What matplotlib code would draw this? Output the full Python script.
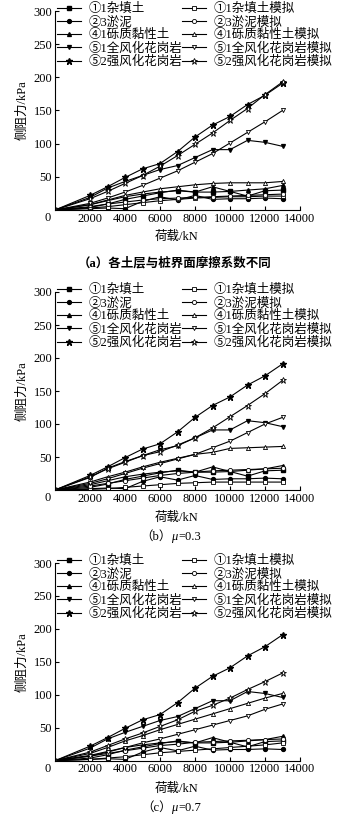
import matplotlib
matplotlib.use("Agg")
import matplotlib.pyplot as plt

plt.rcParams['font.family'] = ['Liberation Serif', 'Noto Sans CJK SC', 'DejaVu Sans']

loads = [0, 2000, 3000, 4000, 5000, 6000, 7000, 8000, 9000, 10000, 11000, 12000, 13000]

# measured (shared by all panels)
m_11 = [0, 4, 9, 16, 21, 26, 30, 27, 27, 28, 21, 29, 30]
m_23 = [0, 2, 3, 2, 13, 20, 15, 22, 16, 17, 17, 18, 17]
m_41 = [0, 8, 14, 20, 24, 27, 29, 27, 35, 28, 30, 32, 37]
m_51 = [0, 19, 33, 43, 52, 61, 67, 79, 91, 91, 105, 102, 96]
m_52 = [0, 22, 35, 49, 62, 70, 88, 110, 128, 141, 159, 173, 191]

# simulated (a)
a_11 = [0, 3, 5, 8, 11, 14, 16, 18, 19, 20, 20, 21, 21]
a_23 = [0, 5, 9, 12, 15, 17, 18, 19, 20, 21, 22, 23, 24]
a_41 = [0, 8, 15, 22, 27, 32, 35, 38, 40, 41, 41, 41, 43]
a_51 = [0, 10, 18, 27, 37, 48, 59, 72, 85, 101, 117, 133, 150]
a_52 = [0, 17, 28, 40, 52, 66, 82, 99, 116, 135, 153, 174, 193]

# simulated (b) mu=0.3
b_11 = [0, 1, 2, 4, 6, 8, 10, 11, 12, 12, 12, 12, 12]
b_23 = [0, 6, 10, 14, 18, 22, 25, 27, 29, 30, 31, 32, 33]
b_41 = [0, 12, 20, 27, 35, 42, 48, 54, 57, 63, 64, 65, 66]
b_51 = [0, 10, 17, 25, 33, 40, 47, 54, 64, 74, 87, 100, 110]
b_52 = [0, 20, 32, 42, 52, 58, 68, 79, 94, 111, 128, 146, 166]

# simulated (c) mu=0.7
c_11 = [0, 2, 4, 6, 9, 12, 14, 16, 18, 20, 22, 24, 27]
c_23 = [0, 7, 11, 15, 19, 23, 25, 28, 29, 30, 31, 32, 33]
c_41 = [0, 11, 20, 30, 38, 47, 55, 63, 71, 79, 87, 95, 102]
c_51 = [0, 7, 13, 20, 27, 33, 40, 47, 54, 61, 68, 78, 86]
c_52 = [0, 13, 23, 33, 42, 52, 62, 75, 84, 95, 108, 120, 133]

names_m = ['①1杂填土', '②3淤泥', '④1砾质黏性土', '⑤1全风化花岗岩', '⑤2强风化花岗岩']
names_s = ['①1杂填土模拟', '②3淤泥模拟', '④1砾质黏性土模拟', '⑤1全风化花岗岩模拟', '⑤2强风化花岗岩模拟']
markers = ['s', 'o', '^', 'v', '*']
xticks = [2000, 4000, 6000, 8000, 10000, 12000, 14000]
yticks = [50, 100, 150, 200, 250, 300]

cap_tags = ['（a）', '（b）', '（c）']
cap_rest = ['各土层与桩界面摩擦系数不同', '=0.3', '=0.7']
sims = [[a_11, a_23, a_41, a_51, a_52],
        [b_11, b_23, b_41, b_51, b_52],
        [c_11, c_23, c_41, c_51, c_52]]
meas = [m_11, m_23, m_41, m_51, m_52]

W, H = 358, 821
fig = plt.figure(figsize=(W / 100, H / 100), dpi=100)

panels = [(11, 210), (292, 490), (563, 760.7)]
xlab_y = [237, 518, 789]
cap_y = [263, 537, 808]
left, right = 55, 300
fs = 9

for i, (top, bot) in enumerate(panels):
    ax = fig.add_axes([left / W, (H - bot) / H, (right - left) / W, (bot - top) / H])
    ax.set_xlim(0, 14000)
    ax.set_ylim(0, 300)
    for sp in ['top', 'right']:
        ax.spines[sp].set_visible(False)
    for sp in ['left', 'bottom']:
        ax.spines[sp].set_linewidth(0.8)
    ax.set_xticks(xticks)
    ax.set_yticks(yticks)
    ax.tick_params(direction='in', length=3, width=0.8, labelsize=fs, pad=2)
    ax.annotate('0', xy=(0, 0), xycoords='data', xytext=(-5, -6),
                textcoords='offset points', ha='center', va='center', fontsize=fs)
    hm = []
    hs = []
    for k in range(5):
        ms = 4.5 if markers[k] == '*' else 2.8
        l1, = ax.plot(loads, meas[k], color='black', lw=0.8, marker=markers[k],
                      ms=ms, mfc='black', mec='black', label=names_m[k])
        hm.append(l1)
    for k in range(5):
        ms = 4.5 if markers[k] == '*' else 3.0
        l2, = ax.plot(loads, sims[i][k], color='black', lw=0.8, marker=markers[k],
                      ms=ms, mfc='white', mec='black', mew=0.6, label=names_s[k])
        hs.append(l2)
    leg1 = ax.legend(handles=hm, loc='upper left', bbox_to_anchor=(0.01, 1.04),
                     frameon=False, fontsize=fs, handlelength=1.9, handletextpad=0.6,
                     labelspacing=0.08, borderpad=0, borderaxespad=0)
    ax.add_artist(leg1)
    ax.legend(handles=hs, loc='upper left', bbox_to_anchor=(0.52, 1.04),
              frameon=False, fontsize=fs, handlelength=1.9, handletextpad=0.6,
              labelspacing=0.08, borderpad=0, borderaxespad=0)
    fig.text(22 / W, 1 - ((top + bot) / 2) / H, '侧阻力/kPa', rotation=90,
             ha='center', va='center', fontsize=fs)
    fig.text(177 / W, 1 - xlab_y[i] / H, '荷载/kN', ha='center', va='center', fontsize=fs)
    if i == 0:
        fig.text(175 / W, 1 - cap_y[i] / H, cap_tags[i] + cap_rest[i], ha='center',
                 va='center', fontsize=fs, fontweight='bold')
    else:
        yy = 1 - cap_y[i] / H
        fig.text(172 / W, yy, cap_tags[i], ha='right', va='center', fontsize=fs)
        fig.text(171 / W, yy, 'μ', ha='left', va='center', fontsize=fs, fontstyle='italic')
        fig.text(178 / W, yy, cap_rest[i], ha='left', va='center', fontsize=fs)

fig.savefig('out.png', dpi=100)
